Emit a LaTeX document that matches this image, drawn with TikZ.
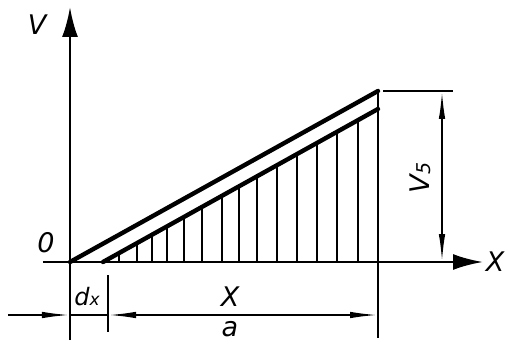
\documentclass[tikz,border=0pt]{standalone}
\usepackage{fontspec}
\setsansfont{DejaVu Sans}
\usetikzlibrary{arrows.meta}

\begin{document}
\begin{tikzpicture}[
  x=1pt,y=1pt,
  font=\sffamily\itshape\fontsize{27}{27}\selectfont,
  axis/.style={line width=2.8pt,-{Latex[length=30pt,width=16pt]}},
  thickline/.style={line width=4.4pt,line cap=round},
  hatch/.style={line width=2.2pt},
  extline/.style={line width=2.2pt},
  dimline/.style={line width=1.8pt},
  dimtip/.tip={Latex[length=28pt,width=6.5pt]},
  lbl/.style={inner sep=0pt}
]
\useasboundingbox (-70,-86) rectangle (438,262);
\coordinate (O) at (0,0);
\coordinate (ytop) at (0,255);
\coordinate (ybot) at (0,-78);
\coordinate (xleft) at (-27,0);
\coordinate (xtip) at (413,0);
\coordinate (top) at (308,171);
\coordinate (start) at (33,0);
\coordinate (inner) at (308,153);
\coordinate (edge) at (308,-76);

% axes
\draw[axis] (ybot) -- (ytop);
\draw[axis] (xleft) -- (xtip);
\node[lbl] (vlab) at (-33,237) {V};
\node[lbl] (olab) at (-24,19) {0};
\node[lbl] (xlab) at (425,0) {X};

% triangle
\draw[thickline] (O) -- (top);
\draw[thickline] (start) -- (inner);
\draw[extline] (top) -- (edge);
\foreach \hx in {49.3,66.7,81.7,96.7,114,132.3,151.7,169,187.3,207.3,227.3,247.3,267.3,288.3}
  \draw[hatch] (\hx,0) -- (\hx,{0.5564*(\hx-33)});

% dimension v5
\coordinate (e1) at (313,171);
\coordinate (e2) at (383,171);
\coordinate (v1) at (372,171);
\coordinate (v0) at (372,0);
\draw[extline] (e1) -- (e2);
\draw[dimline,dimtip-dimtip] (v0) -- (v1);
\node[lbl,rotate=90] (vslab) at (350,84) {\fontsize{27}{27}\selectfont V\raisebox{-1pt}{\fontsize{19}{19}\selectfont 5}};

% dimensions dx, x, a
\coordinate (dxe1) at (38,-13);
\coordinate (dxe2) at (38,-70);
\coordinate (dleft) at (-62,-53);
\coordinate (d0) at (0,-53);
\coordinate (d1) at (38,-53);
\coordinate (d2) at (308,-53);
\draw[extline] (dxe1) -- (dxe2);
\draw[dimline,-dimtip] (dleft) -- (d0);
\draw[dimline] (d0) -- (d1);
\draw[dimline,dimtip-dimtip] (d1) -- (d2);
\node[lbl] (dxlab) at (17,-35) {\fontsize{24}{24}\selectfont d\fontsize{17}{17}\selectfont x};
\node[lbl] (xdim) at (160,-35) {X};
\node[lbl] (adim) at (160,-67) {a};
\end{tikzpicture}
\end{document}
